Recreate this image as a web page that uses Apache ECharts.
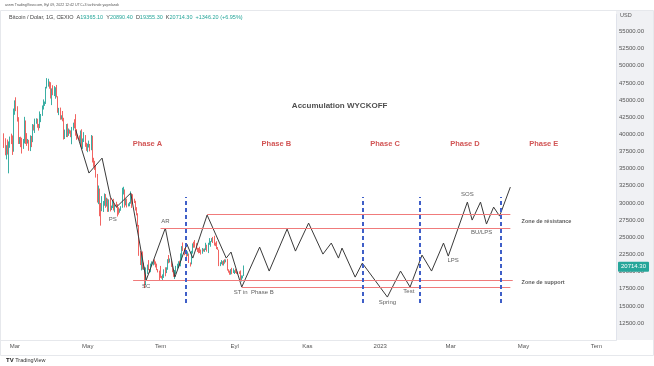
<!DOCTYPE html>
<html><head><meta charset="utf-8">
<script src="https://cdn.jsdelivr.net/npm/echarts@6/dist/echarts.min.js"></script>
<style>html,body{margin:0;padding:0;background:#fff}#c{width:654px;height:366px}</style>
</head><body><div id="c"></div>
<script>
// ---------- data ----------
const monthLabels = ['Oca','Şub','Mar','Nis','May','Haz','Tem','Ağu','Eyl','Eki','Kas','Ara'];
const axisStart = '2022-02-17';
const axisEnd = '2023-07-17';
const priceMin = 10000, priceMax = 57500, priceStep = 2500;
const candleStart = '2022-02-20';
// daily candles: [open, high, low, close]
const ohlc = [
[40090,40150,38020,38430],[38430,39430,36950,37010],[37010,38420,36350,38250],[38250,39250,37050,37260],
[37260,38970,34320,38330],[38330,39680,38040,39210],[39210,40100,38580,39110],[39110,39840,37000,37700],
[37700,43760,37470,43190],
// Mar
[43190,44950,42850,44420],[44420,45400,43380,43920],[43920,44100,41860,42450],[42450,42500,38600,39140],
[39140,39600,38600,39400],[39400,39650,38130,38420],[38420,39500,37200,38060],[38060,39330,37880,38740],
[38740,42550,38680,41940],[41940,42020,38600,39440],[39440,40180,38320,38790],[38790,39330,38660,38900],
[38900,39200,37600,37790],[37790,39850,37560,39670],[39670,39770,38140,39280],[39280,41500,38860,41120],
[41120,41420,40560,40920],[40920,42290,40200,41760],[41760,42340,41540,42200],[42200,42280,40960,41260],
[41260,41520,40550,41000],[41000,43340,40900,42360],[42360,42970,41780,42890],[42890,44210,42690,43960],
[43960,45090,43620,44350],[44350,44780,44140,44500],[44500,46920,44430,46820],[46820,48190,46690,47130],
[47130,48100,46950,47460],[47460,47700,46650,47070],[47070,47600,45220,45540],
// Apr
[45540,46700,44260,46280],[46280,47160,45700,45810],[45810,47030,45580,46410],[46410,46860,45190,46620],
[46620,47200,45400,45550],[45550,45550,43140,43210],[43210,43860,42800,43440],[43440,43900,42130,42260],
[42260,42780,42160,42760],[42760,43400,41900,42160],[42160,42410,39240,39530],[39530,40690,39320,40080],
[40080,41500,39600,41150],[41150,41560,39590,39940],[39940,40850,39780,40550],[40550,40690,40100,40410],
[40410,40570,39590,39720],[39720,41080,38560,40830],[40830,41700,40570,41500],[41500,42200,40880,41370],
[41370,42940,39800,40530],[40530,40760,39200,39740],[39740,39930,39380,39480],[39480,39850,39030,39470],
[39470,40560,38200,40460],[40460,40740,37880,38120],[38120,39400,37880,39240],[39240,40320,38880,39740],
[39740,39900,38180,38600],[38600,38770,37600,37710],
// May
[37710,38630,37400,38470],[38470,39090,38080,38530],[38530,38600,37520,37750],[37750,39900,37690,39700],
[39700,39790,35900,36580],[36580,36580,35260,36040],[36040,36140,34820,35500],[35500,35500,33700,34060],
[34060,34230,30060,30320],[30320,32540,29830,31020],[31020,32100,28070,29100],[29100,30000,26700,29050],
[29050,31000,28800,29280],[29280,30280,28690,30100],[30100,31390,29600,31300],[31300,31300,29300,29860],
[29860,30770,29480,30430],[30430,30640,28700,28720],[28720,30520,28710,30300],[30300,30730,28760,29210],
[29210,29620,28970,29430],[29430,30420,29260,30320],[30320,30600,28900,29100],[29100,29780,28640,29650],
[29650,30180,29320,29540],[29540,29830,28030,29200],[29200,29370,28310,28630],[28630,29190,28580,29030],
[29030,29530,28860,29470],[29470,32220,29300,31730],[31730,32360,31240,31790],
// Jun
[31790,31970,29350,29800],[29800,30600,29650,30450],[30450,30650,29350,29700],[29700,29950,29500,29860],
[29860,30150,29520,29900],[29900,31690,29890,31370],[31370,31370,29280,31130],[31130,31280,29900,30200],
[30200,30620,29990,30110],[30110,30320,28900,29080],[29080,29390,28200,28420],[28420,28500,26560,26580],
[26580,26800,22300,22490],[22490,23000,20950,22140],[22140,22700,20180,22580],[22580,22930,20300,20380],
[20380,21300,20250,20470],[20470,20700,17600,19020],[19020,20600,17980,20550],[20550,21020,19660,20700],
[20700,21680,20200,20280],[20280,20380,19780,19970],[19970,21170,19920,21100],[21100,21480,20800,21230],
[21230,21540,20900,21500],[21500,21780,21020,21030],[21030,21480,20610,20730],[20730,21160,20210,20250],
[20250,20360,19880,20100],[20100,20140,18670,19940],
// Jul
[19940,20830,19090,19280],[19280,19380,18980,19250],[19250,19600,18780,19300],[19300,20330,19080,20230],
[20230,20630,19320,20190],[20190,20630,19780,20550],[20550,21810,20270,21640],[21640,22420,21210,21590],
[21590,21900,21320,21590],[21590,21600,20690,20850],[20850,20850,19910,19960],[19960,20040,19240,19330],
[19330,20240,18920,20210],[20210,20840,19650,20570],[20570,21150,20420,20830],[20830,21510,20520,21190],
[21190,21590,20770,20780],[20780,22650,20770,22480],[22480,23710,21630,23390],[23390,24240,23000,23230],
[23230,23390,22390,23160],[23160,23720,22540,22680],[22680,22950,22130,22450],[22450,22950,22280,22580],
[22580,22640,21260,21300],[21300,21330,20740,21250],[21250,23030,21060,22950],[22950,24110,22630,23850],
[23850,24350,23470,23780],[23780,24600,23500,23640],[23640,24140,23220,23300],
// Aug
[23300,23480,22860,23270],[23270,23450,22670,22990],[22990,23620,22710,22820],[22820,23220,22490,22620],
[22620,23440,22600,23310],[23310,23340,22930,22950],[22950,23380,22870,23170],[23170,24200,23150,23810],
[23810,23920,22910,23160],[23160,24200,22700,23950],[23950,24880,23900,23950],[23950,24450,23620,24400],
[24400,24880,24340,24440],[24440,25050,24160,24300],[24300,25210,23800,24100],[24100,24230,23710,23850],
[23850,24430,23280,23340],[23340,23580,23160,23190],[23190,23200,20800,20830],[20830,21370,20800,21140],
[21140,21680,21080,21520],[21520,21520,20910,21400],[21400,21650,20890,21530],[21530,21800,21150,21370],
[21370,21780,21350,21600],[21600,21850,20150,20260],[20260,20340,19850,20040],[20040,20140,19540,19550],
[19550,20360,19550,20290],[20290,20550,19620,19800],[19800,20470,19800,20050],
// Sep
[20050,20200,19650,20130],[20130,20400,19800,19950],[19950,20050,19660,19830],[19830,20000,19620,20000],
[20000,20040,19660,19800],[19800,20170,18700,18790],[18790,19440,18550,19290],[19290,19430,19010,19368],
[19365.10,20890.40,19355.30,20714.30]
];
const lastPrice = 20714.30;

// Wyckoff projection path [date, price]
const wyckoffPath = [
['2022-04-21',40620],['2022-05-02',34360],['2022-05-13',36540],['2022-05-20',30860],['2022-05-25',29400],
['2022-06-06',31440],['2022-06-19',18770],['2022-07-05',26340],['2022-07-13',19200],['2022-07-23',24010],
['2022-07-28',21970],['2022-08-09',28240],['2022-08-25',21970],['2022-08-29',22850],['2022-09-07',17750],
['2022-09-22',23570],['2022-09-30',20080],['2022-10-15',26200],['2022-10-22',22990],['2022-11-02',27070],
['2022-11-14',22550],['2022-11-21',24160],['2022-11-27',21970],['2022-11-30',23430],['2022-12-11',19200],
['2022-12-17',21240],['2023-01-07',16290],['2023-01-18',20080],['2023-01-26',17750],['2023-02-05',22410],
['2023-02-13',20080],['2023-02-23',24160],['2023-02-27',22260],['2023-03-15',30130],['2023-03-19',27510],
['2023-03-26',30130],['2023-03-31',26930],['2023-04-06',29400],['2023-04-11',28090],['2023-04-20',32320]
];
// horizontal zones [startDate, endDate, price]
const resistanceLines = [['2022-08-09','2023-04-20',28380],['2022-07-01','2023-04-20',26340]];
const supportLines = [['2022-06-08','2023-04-22',18770],['2022-09-07','2023-04-20',17750]];
// phase boundaries
const phaseBounds = ['2022-07-22','2022-12-17','2023-02-03','2023-04-12'];
const phaseBoundLow = 15410, phaseBoundHigh = 30860;

const titleLabel = [['2022-11-28',44160,'Accumulation WYCKOFF']];
const phaseLabels = [
['2022-06-20',38650,'Phase A'],['2022-10-06',38650,'Phase B'],['2023-01-05',38580,'Phase C'],
['2023-03-13',38580,'Phase D'],['2023-05-18',38580,'Phase E']
];
const pointLabels = [
['2022-05-22',27650,'PS'],['2022-06-19',17890,'SC'],['2022-07-05',27360,'AR'],
['2022-09-17',17020,'ST in  Phase B'],['2023-01-07',15560,'Spring'],['2023-01-25',17160,'Test'],
['2023-03-03',21680,'LPS'],['2023-03-15',31300,'SOS'],['2023-03-27',25760,'BU/LPS']
];
const zoneLabels = [['2023-04-29',27260,'Zone de résistance'],['2023-04-29',18430,'Zone de support']];

// ---------- build ----------
const DAY = 86400000;
const cats = [];
for (let t = Date.parse(axisStart + 'T00:00:00Z'); t <= Date.parse(axisEnd + 'T00:00:00Z'); t += DAY) {
  cats.push(new Date(t).toISOString().slice(0, 10));
}
const startIdx = cats.indexOf(candleStart);
const candleData = cats.map((c, i) => {
  const k = i - startIdx;
  if (k >= 0 && k < ohlc.length) { const r = ohlc[k]; return [r[0], r[3], r[2], r[1]]; }
  return '-';
});

const UP = '#26a69a', DOWN = '#ef5350';
const FONT = 'Liberation Sans, Arial, sans-serif';

const zoneMark = [];
resistanceLines.concat(supportLines).forEach(l => {
  zoneMark.push([{coord: [l[0], l[2]], lineStyle: {color: '#f07b7b', width: 1, type: 'solid'}},
                 {coord: [l[1], l[2]]}]);
});
phaseBounds.forEach(d => {
  zoneMark.push([{coord: [d, phaseBoundLow], lineStyle: {color: '#3f5fc8', width: 2, type: [4, 3]}},
                 {coord: [d, phaseBoundHigh]}]);
});

function labelSeries(data, label) {
  return {
    type: 'scatter', data: data, symbolSize: 1, itemStyle: {color: 'rgba(0,0,0,0)'}, silent: true, z: 10,
    label: Object.assign({show: true, position: 'inside', fontFamily: FONT, formatter: p => p.data[2]}, label)
  };
}

const chart = echarts.init(document.getElementById('c'), null, {renderer: 'canvas'});
chart.setOption({
  animation: false,
  backgroundColor: '#fff',
  grid: {left: 0, right: 38, top: 14.24, bottom: 25.76, containLabel: false},
  xAxis: {
    type: 'category', data: cats, boundaryGap: true,
    axisLine: {show: true, lineStyle: {color: '#e6e8ec'}},
    axisTick: {show: false},
    splitLine: {show: false},
    axisLabel: {
      fontSize: 6, color: '#555', fontFamily: FONT, margin: 3,
      interval: (i, v) => v.slice(8) === '01' && (parseInt(v.slice(5, 7), 10) % 2 === 1),
      formatter: v => { const m = parseInt(v.slice(5, 7), 10); return m === 1 ? v.slice(0, 4) : monthLabels[m - 1]; }
    }
  },
  yAxis: {
    type: 'value', position: 'right', min: priceMin, max: priceMax, interval: priceStep, scale: true,
    axisLine: {show: true, lineStyle: {color: '#e0e3eb'}},
    axisTick: {show: false},
    splitLine: {show: false},
    axisLabel: {fontSize: 6, color: '#555', fontFamily: FONT, margin: 3, showMinLabel: false, showMaxLabel: false,
      formatter: v => v.toFixed(2)}
  },
  graphic: [
    {type: 'rect', z: -10, shape: {x: 616, y: 10, width: 37, height: 330}, style: {fill: '#f0f1f4'}},
    {type: 'rect', z: -9, shape: {x: 0.5, y: 10.5, width: 653, height: 345}, style: {fill: 'none', stroke: '#e6e8ec', lineWidth: 1}},
    {type: 'text', left: 5, top: 3, style: {text: 'asnm TradingView.com, Eyl 09, 2022 12:42 UTC+3 tarihinde yayınlandı', fontSize: 3.6, fill: '#555', fontFamily: FONT}},
    {type: 'text', left: 9, top: 14, style: {
      text: 'Bitcoin / Dolar, 1G, CEXIO  A{g|19365.10}  Y{g|20890.40}  D{g|19355.30}  K{g|20714.30}  {g|+1346.20 (+6.95%)}',
      fontSize: 5.5, fill: '#444', fontFamily: FONT, rich: {g: {fill: UP, fontSize: 5.5, fontFamily: FONT}}}},
    {type: 'text', left: 620, top: 12, style: {text: 'USD', fontSize: 5.5, fill: '#555', fontFamily: FONT}},
    {type: 'text', left: 6, top: 357, style: {text: '{b|TV} TradingView', fontSize: 5.5, fill: '#333', fontFamily: FONT,
      rich: {b: {fontWeight: 'bold', fontSize: 6, fill: '#222', fontFamily: FONT}}}}
  ],
  series: [
    {
      type: 'candlestick', data: candleData, barWidth: 1.2, z: 2,
      itemStyle: {color: UP, color0: DOWN, borderColor: UP, borderColor0: DOWN, borderWidth: 0.9},
      markLine: {
        symbol: 'none', silent: true, animation: false,
        data: [{yAxis: lastPrice}],
        lineStyle: {color: 'rgba(0,0,0,0)', width: 0},
        label: {show: true, position: 'end', formatter: lastPrice.toFixed(2), color: '#fff', backgroundColor: UP,
          fontSize: 6, fontFamily: FONT, padding: [2, 3], borderRadius: 1, distance: 2}
      }
    },
    {
      type: 'line', data: wyckoffPath, symbol: 'none', z: 4,
      lineStyle: {color: '#3a3a3a', width: 1},
      markLine: {symbol: 'none', silent: true, animation: false, label: {show: false}, data: zoneMark}
    },
    labelSeries(titleLabel, {fontSize: 8, fontWeight: 'bold', color: '#222'}),
    labelSeries(phaseLabels, {fontSize: 7.5, fontWeight: 'bold', color: '#c62828'}),
    labelSeries(pointLabels, {fontSize: 6, color: '#333'}),
    labelSeries(zoneLabels, {fontSize: 5.5, fontWeight: 'bold', color: '#333', position: 'right', distance: 0})
  ]
});
</script>
</body></html>
